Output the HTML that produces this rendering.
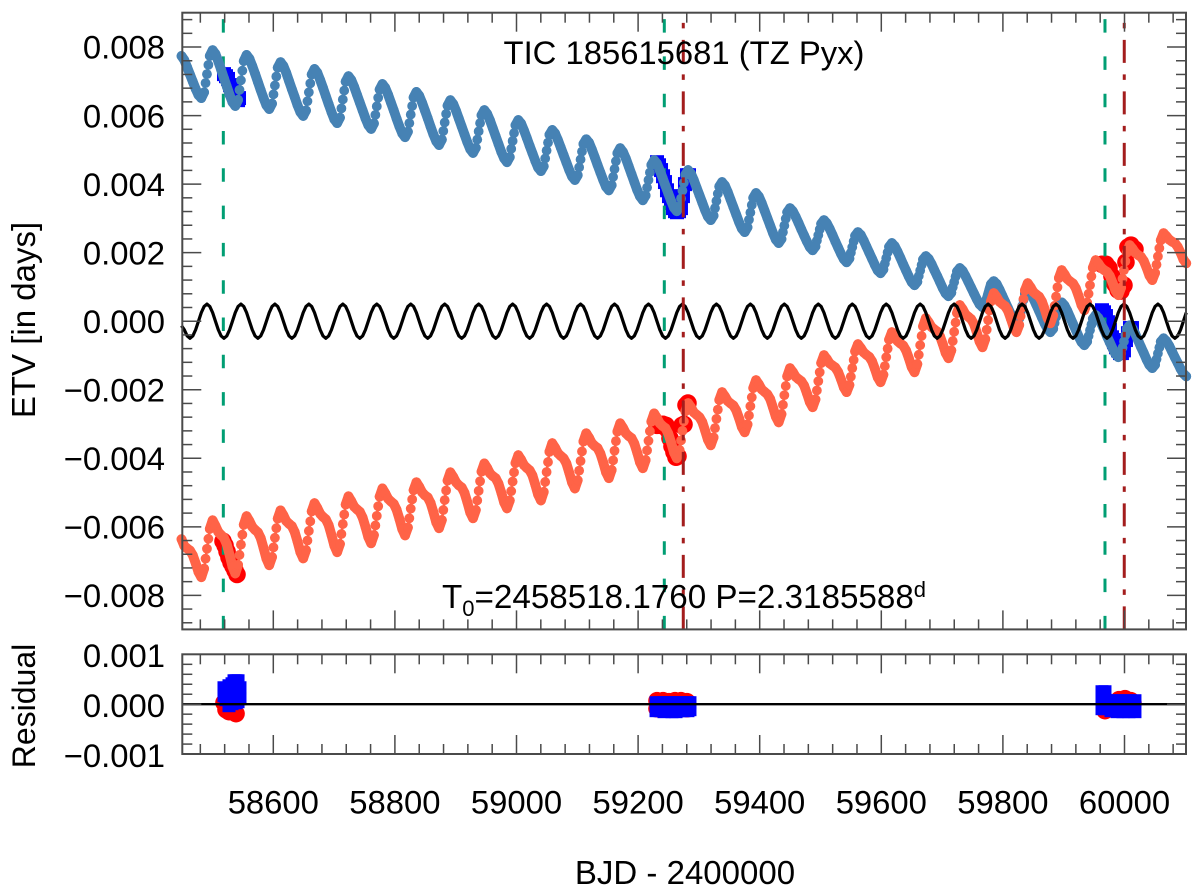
<!DOCTYPE html>
<html lang="en">
<head>
<meta charset="utf-8">
<title>TIC 185615681 (TZ Pyx) ETV</title>
<style>
html,body{margin:0;padding:0;background:#fff;}
svg{display:block;}
text{font-family:"Liberation Sans",Arial,sans-serif;fill:#000;}
</style>
</head>
<body>
<svg id="chart" xmlns="http://www.w3.org/2000/svg" width="1200" height="892" viewBox="0 0 1200 892">
  <rect x="0" y="0" width="1200" height="892" fill="#fff"/>
  <g id="main-obs"></g>
  <g id="main-green"></g>
  <g id="main-curves"></g>
  <g id="main-red"></g>
  <g id="res-obs"></g>
  <g id="axes"></g>
  <text x="684" y="64" font-size="32.8" text-anchor="middle">TIC 185615681 (TZ Pyx)</text>
  <text x="442" y="608" font-size="33.2">T<tspan font-size="22" dy="8">0</tspan><tspan dy="-8">=2458518.1760 P=2.3185588</tspan><tspan font-size="22" dy="-11">d</tspan></text>
  <text transform="translate(35,320) rotate(-90)" font-size="33" text-anchor="middle">ETV [in days]</text>
  <text transform="translate(35,706) rotate(-90)" font-size="32" text-anchor="middle">Residual</text>
  <text x="685" y="884" font-size="33" text-anchor="middle">BJD - 2400000</text>
</svg>
<script>
// Time grid of the model curves (BJD - 2400000)
const gridStart = 58449;
const gridStep = 4.655;

// Model ETV of the primary (steel blue), in units of 0.001 d
const etvPrimary = [
7.74,7.62,7.41,7.2,6.99,6.78,6.6,6.51,6.68,7.21,7.74,
7.91,7.80,7.58,7.34,7.09,6.85,6.61,6.39,6.28,6.46,7.03,7.59,
7.77,7.66,7.45,7.22,6.98,6.74,6.51,6.30,6.19,6.35,6.88,7.40,
7.56,7.45,7.25,7.01,6.77,6.54,6.30,6.10,5.99,6.15,6.68,7.20,
7.36,7.25,7.04,6.81,6.57,6.33,6.10,5.89,5.78,5.94,6.47,6.99,
7.15,7.04,6.84,6.61,6.38,6.15,5.92,5.72,5.61,5.77,6.27,6.76,
6.92,6.81,6.61,6.38,6.15,5.91,5.68,5.48,5.37,5.53,6.03,6.53,
6.69,6.58,6.38,6.15,5.92,5.68,5.45,5.25,5.14,5.30,5.80,6.29,
6.45,6.34,6.14,5.91,5.68,5.45,5.22,5.02,4.91,5.06,5.54,6.01,
6.16,6.05,5.86,5.63,5.40,5.17,4.94,4.75,4.64,4.79,5.26,5.72,
5.87,5.77,5.57,5.35,5.12,4.90,4.68,4.48,4.38,4.52,4.98,5.44,
5.58,5.48,5.29,5.07,4.85,4.63,4.41,4.22,4.12,4.26,4.72,5.17,
5.31,5.21,5.01,4.79,4.56,4.34,4.12,3.92,3.82,3.97,4.44,4.90,
5.05,4.94,4.75,4.52,4.29,4.06,3.83,3.64,3.53,3.67,4.12,4.56,
4.70,4.60,4.40,4.18,3.95,3.73,3.51,3.31,3.21,3.35,3.81,4.27,
4.41,4.31,4.12,3.90,3.68,3.46,3.24,3.05,2.95,3.08,3.51,3.93,
4.06,3.96,3.77,3.55,3.33,3.11,2.89,2.70,2.60,2.74,3.17,3.60,
3.74,3.64,3.45,3.23,3.01,2.79,2.57,2.38,2.28,2.40,2.79,3.18,
3.30,3.21,3.05,2.87,2.68,2.50,2.32,2.16,2.07,2.18,2.51,2.84,
2.95,2.86,2.70,2.52,2.33,2.15,1.97,1.81,1.72,1.83,2.16,2.49,
2.60,2.52,2.36,2.18,2.0,1.82,1.64,1.48,1.40,1.51,1.84,2.17,
2.28,2.19,2.03,1.85,1.66,1.48,1.30,1.14,1.05,1.15,1.48,1.80,
1.90,1.82,1.67,1.49,1.32,1.14,.96,.81,.73,.83,1.14,1.45,
1.55,1.47,1.32,1.15,.98,.81,.64,.49,.41,.50,.79,1.08,
1.17,1.09,.93,.75,.57,.39,.21,.05,-.03,.08,.44,.80,
.91,.82,.66,.48,.30,.11,-.07,-.23,-.32,-.22,.12,.45,
.55,.46,.30,.11,-.08,-.26,-.45,-.61,-.70,-.59,-.26,.07,
.18,.09,-.07,-.25,-.44,-.62,-.80,-.96,-1.05,-.94,-.59,-.23,
-.12,-.21,-.37,-.56,-.75,-.93,-1.12,-1.28,-1.37,-1.27,-.94,-.60,
-.50,-.58,-.72,-.89,-1.06,-1.22,-1.39,-1.53,-1.61
];

// Additional primary points on each steep rise (two per rise), 0.001 d
const risePrimary = [
6.95,7.48, 6.75,7.31, 6.62,7.14, 6.42,6.94, 6.21,6.73, 6.02,6.52, 5.78,6.28, 5.55,6.05,
5.30,5.78, 5.03,5.49, 4.75,5.21, 4.49,4.95, 4.21,4.67, 3.90,4.34, 3.58,4.04, 3.30,3.72,
2.96,3.39, 2.60,2.99, 2.35,2.68, 2.0,2.33, 1.68,2.01, 1.32,1.64, .99,1.30, .65,.94,
.26,.62, -.05,.29, -.43,-.10, -.77,-.41, -1.11,-.77
];

// Model ETV of the secondary (tomato), in units of 0.001 d
const etvSecondary = [
-6.36,-6.56,-6.63,-6.69,-6.83,-7.06,-7.32,-7.47,-7.22,-6.64,-6.06,
-5.81,-5.97,-6.15,-6.24,-6.32,-6.51,-6.82,-7.16,-7.36,-7.11,-6.52,-5.94,
-5.69,-5.83,-6.0,-6.09,-6.16,-6.33,-6.62,-6.93,-7.12,-6.88,-6.32,-5.76,
-5.52,-5.66,-5.83,-5.91,-5.98,-6.15,-6.43,-6.74,-6.92,-6.68,-6.12,-5.55,
-5.31,-5.45,-5.62,-5.71,-5.78,-5.95,-6.24,-6.55,-6.74,-6.50,-5.92,-5.35,
-5.11,-5.25,-5.41,-5.49,-5.56,-5.73,-6.0,-6.30,-6.48,-6.24,-5.68,-5.12,
-4.88,-5.02,-5.18,-5.26,-5.33,-5.50,-5.77,-6.07,-6.25,-6.02,-5.47,-4.93,
-4.70,-4.83,-4.99,-5.08,-5.14,-5.30,-5.57,-5.87,-6.04,-5.80,-5.22,-4.65,
-4.41,-4.54,-4.70,-4.79,-4.85,-5.01,-5.28,-5.58,-5.75,-5.51,-4.95,-4.39,
-4.15,-4.28,-4.44,-4.52,-4.58,-4.74,-5.0,-5.29,-5.46,-5.23,-4.68,-4.14,
-3.91,-4.04,-4.20,-4.28,-4.35,-4.50,-4.77,-5.06,-5.23,-4.98,-4.40,-3.81,
-3.56,-3.69,-3.85,-3.93,-4.0,-4.15,-4.42,-4.71,-4.88,-4.64,-4.08,-3.51,
-3.27,-3.40,-3.56,-3.64,-3.70,-3.86,-4.12,-4.41,-4.58,-4.34,-3.78,-3.22,
-2.98,-3.11,-3.27,-3.35,-3.41,-3.57,-3.83,-4.12,-4.29,-4.05,-3.49,-2.93,
-2.69,-2.82,-2.98,-3.06,-3.12,-3.28,-3.54,-3.83,-4.00,-3.76,-3.20,-2.63,
-2.39,-2.51,-2.66,-2.73,-2.80,-2.94,-3.19,-3.46,-3.62,-3.39,-2.85,-2.30,
-2.07,-2.19,-2.33,-2.40,-2.46,-2.60,-2.83,-3.09,-3.24,-3.01,-2.48,-1.95,
-1.72,-1.84,-1.99,-2.06,-2.13,-2.27,-2.52,-2.79,-2.95,-2.71,-2.16,-1.61,
-1.37,-1.48,-1.62,-1.69,-1.75,-1.88,-2.11,-2.36,-2.51,-2.28,-1.75,-1.22,
-.99,-1.10,-1.23,-1.29,-1.35,-1.48,-1.69,-1.93,-2.07,-1.86,-1.37,-.88,
-.67,-.78,-.91,-.98,-1.04,-1.17,-1.39,-1.64,-1.78,-1.56,-1.05,-.54,
-.32,-.44,-.58,-.65,-.71,-.85,-1.08,-1.34,-1.49,-1.25,-.70,-.15,
.09,-.03,-.17,-.24,-.30,-.44,-.67,-.93,-1.08,-.85,-.31,.24,
.47,.35,.20,.13,.06,-.08,-.33,-.60,-.76,-.52,.03,.58,
.82,.71,.57,.50,.44,.31,.08,-.17,-.32,-.11,.40,.90,
1.11,.99,.85,.78,.72,.58,.35,.09,-.06,.17,.72,1.26,
1.49,1.37,1.23,1.16,1.10,.96,.73,.47,.32,.54,1.05,1.56,
1.78,1.68,1.56,1.49,1.44,1.32,1.12,.89,.76,.98,1.49,2.0,
2.22,2.12,2.0,1.93,1.88,1.76,1.56,1.33,1.20,1.41,1.89,2.36,
2.57,2.48,2.38,2.32,2.28,2.17,2.0,1.80,1.69
];

// Additional secondary points on each steep rise (two per rise), 0.001 d
const riseSecondary = [
-6.93,-6.35, -6.82,-6.23, -6.60,-6.04, -6.40,-5.84, -6.21,-5.64, -5.96,-5.40, -5.75,-5.20, -5.51,-4.94,
-5.23,-4.67, -4.96,-4.41, -4.69,-4.11, -4.36,-3.80, -4.06,-3.50, -3.77,-3.21, -3.48,-2.92, -3.12,-2.58,
-2.75,-2.22, -2.44,-1.89, -2.02,-1.49, -1.62,-1.13, -1.31,-.80, -.98,-.43, -.58,-.04, -.25,.31,
.15,.65, .45,.99, .80,1.31, 1.24,1.75, 1.65,2.13
];

// Black oscillating curve, in units of 0.001 d
const etvOscillation = [
-.13,-.25,-.43,-.5,-.43,-.25,0,.25,.43,.5,.43,.25,
0,-.25,-.43,-.5,-.43,-.25,0,.25,.43,.5,.43,.25,
0,-.25,-.43,-.5,-.43,-.25,0,.25,.43,.5,.43,.25,
0,-.25,-.43,-.5,-.43,-.25,0,.25,.43,.5,.43,.25,
0,-.25,-.43,-.5,-.43,-.25,0,.25,.43,.5,.43,.25,
0,-.25,-.43,-.5,-.43,-.25,0,.25,.43,.5,.43,.25,
0,-.25,-.43,-.5,-.43,-.25,0,.25,.43,.5,.43,.25,
0,-.25,-.43,-.5,-.43,-.25,0,.25,.43,.5,.43,.25,
0,-.25,-.43,-.5,-.43,-.25,0,.25,.43,.5,.43,.25,
0,-.25,-.43,-.5,-.43,-.25,0,.25,.43,.5,.43,.25,
0,-.25,-.43,-.5,-.43,-.25,0,.25,.43,.5,.43,.25,
0,-.25,-.43,-.5,-.43,-.25,0,.25,.43,.5,.43,.25,
0,-.25,-.43,-.5,-.43,-.25,0,.25,.43,.5,.43,.25,
0,-.25,-.43,-.5,-.43,-.25,0,.25,.43,.5,.43,.25,
0,-.25,-.43,-.5,-.43,-.25,0,.25,.43,.5,.43,.25,
0,-.25,-.43,-.5,-.43,-.25,0,.25,.43,.5,.43,.25,
0,-.25,-.43,-.5,-.43,-.25,0,.25,.43,.5,.43,.25,
0,-.25,-.43,-.5,-.43,-.25,0,.25,.43,.5,.43,.25,
0,-.25,-.43,-.5,-.43,-.25,0,.25,.43,.5,.43,.25,
0,-.25,-.43,-.5,-.43,-.25,0,.25,.43,.5,.43,.25,
0,-.25,-.43,-.5,-.43,-.25,0,.25,.43,.5,.43,.25,
0,-.25,-.43,-.5,-.43,-.25,0,.25,.43,.5,.43,.25,
0,-.25,-.43,-.5,-.43,-.25,0,.25,.43,.5,.43,.25,
0,-.25,-.43,-.5,-.43,-.25,0,.25,.43,.5,.43,.25,
0,-.25,-.43,-.5,-.43,-.25,0,.25,.43,.5,.43,.25,
0,-.25,-.43,-.5,-.43,-.25,0,.25,.43,.5,.43,.25,
0,-.25,-.43,-.5,-.43,-.25,0,.25,.43,.5,.43,.25,
0,-.25,-.43,-.5,-.43,-.25,0,.25,.43,.5,.43,.25,
0,-.25,-.43,-.5,-.43,-.25,0,.25,.43,.5,.43,.25,
0,-.25,-.43,-.5,-.43,-.25,0,.25
];

// Observed primary eclipses (blue squares): times and ETV (0.001 d)
const obsPrimaryTimes = [
58518.9,58522.2,58525.5,58528.8,58532.1,58535.4,58538.7,58542,58543.6,
59231.1,59234.4,59237.7,59241,59244.2,59247.5,59250.8,59254.1,59257.4,59260.7,59264,59267.3,59270.5,59273.8,59277.1,59280.4,59283.7,
59963,59966.3,59969.5,59972.8,59976.1,59979.4,59982.7,59986,59989.3,59992.6,59995.8,59999.1,60002.4,60005.7,60009,60012.3
];
const obsPrimaryEtv = [
7.21,7.15,7.07,6.89,6.74,6.63,6.51,6.45,6.51,
4.64,4.55,4.41,4.23,4.06,3.82,3.65,3.45,3.30,3.21,3.18,3.21,3.30,3.65,4.0,4.26,4.26,
.32,.26,.15,-.03,-.26,-.47,-.61,-.76,-.85,-.93,-.93,-.85,-.55,-.35,-.20,-.20
];

// Observed secondary eclipses (red circles): times and ETV (0.001 d)
const obsSecondaryTimes = [
58517.3,58520.6,58523.9,58527.1,58530.4,58533.7,58537,58540.3,
59231.1,59236,59241,59245.9,59249.1,59252.4,59255.7,59259,59262.3,59265.6,59272.2,59275.5,59278.8,59282,
59963,59969.5,59974.5,59979.4,59984.3,59989.3,59994.2,59999.1,60002.4,60005.7,60010.6,60017.2
];
const obsSecondaryEtv = [
-6.42,-6.54,-6.72,-6.89,-7.04,-7.15,-7.27,-7.39,
-3.04,-3.04,-3.01,-3.04,-3.18,-3.42,-3.65,-3.82,-3.97,-3.94,-3.04,-3.01,-2.45,-2.39,
1.66,1.66,1.55,1.31,1.08,.91,.88,1.05,1.72,2.16,2.22,2.10
];

// Residuals of primary eclipses (blue squares), 0.001 d
const resPrimaryTimes = [
58518.9,58518.9,58522.2,58522.2,58527.1,58527.1,58527.1,58532.1,58532.1,58532.1,58535.4,58535.4,58535.4,58538.7,58538.7,58538.7,58542,58542,58542,58545.2,58545.2,
59229.5,59229.5,59236,59236,59242.6,59242.6,59249.1,59249.1,59255.7,59255.7,59262.3,59262.3,59268.9,59268.9,59275.5,59275.5,59282,59282,59285.3,59285.3,
59963,59963,59963,59967.9,59967.9,59967.9,59977.8,59977.8,59987.7,59987.7,59997.5,59997.5,60007.4,60007.4,60017.2,60017.2
];
const resPrimaryValues = [
.33,.17,.29,.09,.37,.15,-.03,.41,.19,.01,.47,.25,.05,.47,.25,.03,.47,.23,.05,.33,.11,
.03,-.13,.03,-.13,.03,-.15,.03,-.13,.03,-.15,.03,-.15,.03,-.13,.03,-.13,.03,-.13,.03,-.11,
.25,.05,-.09,.25,.05,-.09,.07,-.13,.07,-.15,.07,-.15,.07,-.15,.07,-.15
];

// Residuals of secondary eclipses (red circles), 0.001 d
const resSecondaryTimes = [
58518.9,58522.2,58527.1,58532.1,58538.7,58535.4,
59231.1,59241,59250.8,59260.7,59270.5,59280.4,59231.1,59241,59270.5,59280.4,
59967.9,59977.8,59990.9,60000.8,60010.6,60013.9,59967.9
];
const resSecondaryValues = [
.03,-.11,-.15,-.15,-.19,-.03,
.07,.07,.05,.07,.07,.05,-.09,-.09,-.09,-.09,
-.13,-.09,.09,.11,.07,.03,.09
];

// Event markers
const greenEventTimes = [58517.8,59243.1,59967.9];
const redEventTimes = [59274.3,59999.6];

// Axis ticks
const xMajorTicks = [58600,58800,59000,59200,59400,59600,59800,60000];
const xMajorLabels = ['58600','58800','59000','59200','59400','59600','59800','60000'];
const xMinorTicks = [58480,58520,58560,58640,58680,58720,58760,58840,58880,58920,58960,59040,59080,59120,59160,59240,59280,59320,59360,59440,59480,59520,59560,59640,59680,59720,59760,59840,59880,59920,59960,60040,60080];
const yMajorTicks = [0.008,0.006,0.004,0.002,0,-0.002,-0.004,-0.006,-0.008];
const yMajorLabels = ['0.008','0.006','0.004','0.002','0.000','\u22120.002','\u22120.004','\u22120.006','\u22120.008'];
const yMinorTicks = [0.0088,0.0084,0.0076,0.0072,0.0068,0.0064,0.0056,0.0052,0.0048,0.0044,0.0036,0.0032,0.0028,0.0024,0.0016,0.0012,0.0008,0.0004,-0.0004,-0.0008,-0.0012,-0.0016,-0.0024,-0.0028,-0.0032,-0.0036,-0.0044,-0.0048,-0.0052,-0.0056,-0.0064,-0.0068,-0.0072,-0.0076,-0.0084,-0.0088];
const resMajorTicks = [0.001,0,-0.001];
const resMajorLabels = ['0.001','0.000','\u22120.001'];
const resMinorTicks = [0.0008,0.0006,0.0004,0.0002,-0.0002,-0.0004,-0.0006,-0.0008];

// Axis functions
const plotLeft = 182.3, plotRight = 1186;
const mainTop = 12.7, mainBottom = 629.4;
const resTop = 654.3, resBottom = 754;
function xScale(t){ return 273.3 + (t - 58600) * 0.608; }
function yMain(v){ return 321.2 - v * 34270; }
function yRes(v){ return 704.2 - v * 49850; }
function gridTime(i){ return gridStart + gridStep * i; }

const NS = 'http://www.w3.org/2000/svg';
function make(tag, attrs, parent){
  const e = document.createElementNS(NS, tag);
  for (const k in attrs) e.setAttribute(k, attrs[k]);
  parent.appendChild(e);
  return e;
}

const gObs = document.getElementById('main-obs');
const gGreen = document.getElementById('main-green');
const gCurves = document.getElementById('main-curves');
const gRed = document.getElementById('main-red');
const gRes = document.getElementById('res-obs');
const gAxes = document.getElementById('axes');

const squareSide = 14, resSquareSide = 13, circleRadius = 8.8;
const pointRadius = 4.9;

// Observed points, main panel
obsSecondaryTimes.forEach(function(t, i){
  const c = make('circle', {cx:xScale(t), cy:yMain(obsSecondaryEtv[i]/1000), r:circleRadius, fill:'#ff0000'}, gObs);
  
  
});
obsPrimaryTimes.forEach(function(t, i){
  const s = make('rect', {x:xScale(t)-squareSide/2, y:yMain(obsPrimaryEtv[i]/1000)-squareSide/2, width:squareSide, height:squareSide, fill:'#0000ff'}, gObs);
  
  
});

// Event lines
greenEventTimes.forEach(function(t){
  const l = make('line', {x1:xScale(t), x2:xScale(t), y1:mainBottom, y2:mainTop+5, stroke:'#009e73', 'stroke-width':3, 'stroke-dasharray':'13.5 23.8'}, gGreen);
  
  
});
redEventTimes.forEach(function(t){
  const l = make('line', {x1:xScale(t), x2:xScale(t), y1:mainBottom, y2:mainTop+4, stroke:'#a31d1d', 'stroke-width':3, 'stroke-dasharray':'23 11.5 5.5 11.5'}, gRed);
  
  
});

// Model curves: falling parts form a solid band, steep rises show separate dots
function drawSeries(values, riseValues, color, seriesName){
  let thick = '', thin = '';
  for (let i = 0; i + 1 < values.length; i++){
    const seg = 'M' + xScale(gridTime(i)).toFixed(2) + ' ' + yMain(values[i]/1000).toFixed(2) +
                'L' + xScale(gridTime(i+1)).toFixed(2) + ' ' + yMain(values[i+1]/1000).toFixed(2);
    if (values[i+1] - values[i] > 0.3) thin += seg; else thick += seg;
  }
  const thickPath = make('path', {d:thick, fill:'none', stroke:color, 'stroke-width':pointRadius*2, 'stroke-linecap':'round'}, gCurves);
  
  
  const thinPath = make('path', {d:thin, fill:'none', stroke:color, 'stroke-width':2.6, 'stroke-linecap':'round'}, gCurves);
  
  
  values.forEach(function(v, i){
    const p = make('circle', {cx:xScale(gridTime(i)).toFixed(2), cy:yMain(v/1000).toFixed(2), r:pointRadius, fill:color}, gCurves);
    
    
  });
  riseValues.forEach(function(v, j){
    const idx = 8.5 + 12 * Math.floor(j / 2) + (j % 2);
    const p = make('circle', {cx:xScale(gridTime(idx)).toFixed(2), cy:yMain(v/1000).toFixed(2), r:pointRadius, fill:color}, gCurves);
    
    
  });
}
drawSeries(etvPrimary, risePrimary, '#4682b4', 'primary-etv');
drawSeries(etvSecondary, riseSecondary, '#ff6347', 'secondary-etv');

let oscD = '';
etvOscillation.forEach(function(v, i){
  oscD += (i ? 'L' : 'M') + xScale(gridTime(i)).toFixed(2) + ' ' + yMain(v/1000).toFixed(2);
});
const oscPath = make('path', {d:oscD, fill:'none', stroke:'#000', 'stroke-width':3.2, 'stroke-linejoin':'round'}, gCurves);



// Residual points
resSecondaryTimes.forEach(function(t, i){
  const c = make('circle', {cx:xScale(t), cy:yRes(resSecondaryValues[i]/1000), r:circleRadius, fill:'#ff0000'}, gRes);
  
  
});
resPrimaryTimes.forEach(function(t, i){
  const s = make('rect', {x:xScale(t)-resSquareSide/2, y:yRes(resPrimaryValues[i]/1000)-resSquareSide/2, width:resSquareSide, height:resSquareSide, fill:'#0000ff'}, gRes);
  
  
});
const zeroLine = make('line', {x1:plotLeft, x2:plotRight, y1:yRes(0), y2:yRes(0), stroke:'#000', 'stroke-width':2.4}, gRes);



// Frames and ticks
const axisColor = '#4a4a4a', axisWidth = 1.5;
const majorLen = 19, minorLen = 10;
[[mainTop, mainBottom, 'main-panel-frame'], [resTop, resBottom, 'residual-panel-frame']].forEach(function(f){
  const r = make('rect', {x:plotLeft, y:f[0], width:plotRight-plotLeft, height:f[1]-f[0], fill:'none', stroke:axisColor, 'stroke-width':2}, gAxes);
  
  
});
function tickLine(x1, y1, x2, y2){
  const l = make('line', {x1:x1, y1:y1, x2:x2, y2:y2, stroke:axisColor, 'stroke-width':axisWidth}, gAxes);
  
  
}
function xTicks(top, bottom){
  xMajorTicks.forEach(function(t){
    tickLine(xScale(t), top, xScale(t), top+majorLen);
    tickLine(xScale(t), bottom, xScale(t), bottom-majorLen);
  });
  xMinorTicks.forEach(function(t){
    tickLine(xScale(t), top, xScale(t), top+minorLen);
    tickLine(xScale(t), bottom, xScale(t), bottom-minorLen);
  });
}
xTicks(mainTop, mainBottom);
xTicks(resTop, resBottom);
function yTicks(values, scale, len){
  values.forEach(function(v){
    tickLine(plotLeft, scale(v), plotLeft+len, scale(v));
    tickLine(plotRight, scale(v), plotRight-len, scale(v));
  });
}
yTicks(yMajorTicks, yMain, majorLen);
yTicks(yMinorTicks, yMain, minorLen);
yTicks(resMajorTicks.slice(1, 2), yRes, majorLen);
yTicks(resMinorTicks, yRes, minorLen);

// Tick labels
const labelSize = 32.8;
yMajorTicks.forEach(function(v, i){
  const t = make('text', {x:165, y:yMain(v)+11.7, 'font-size':labelSize, 'text-anchor':'end'}, gAxes);
  t.textContent = yMajorLabels[i];
  
  
});
resMajorTicks.forEach(function(v, i){
  const t = make('text', {x:165, y:yRes(v)+12.7, 'font-size':labelSize, 'text-anchor':'end'}, gAxes);
  t.textContent = resMajorLabels[i];
  
  
});
xMajorTicks.forEach(function(v, i){
  const t = make('text', {x:xScale(v), y:813.5, 'font-size':labelSize, 'text-anchor':'middle'}, gAxes);
  t.textContent = xMajorLabels[i];
  
  
});
</script>
</body>
</html>
